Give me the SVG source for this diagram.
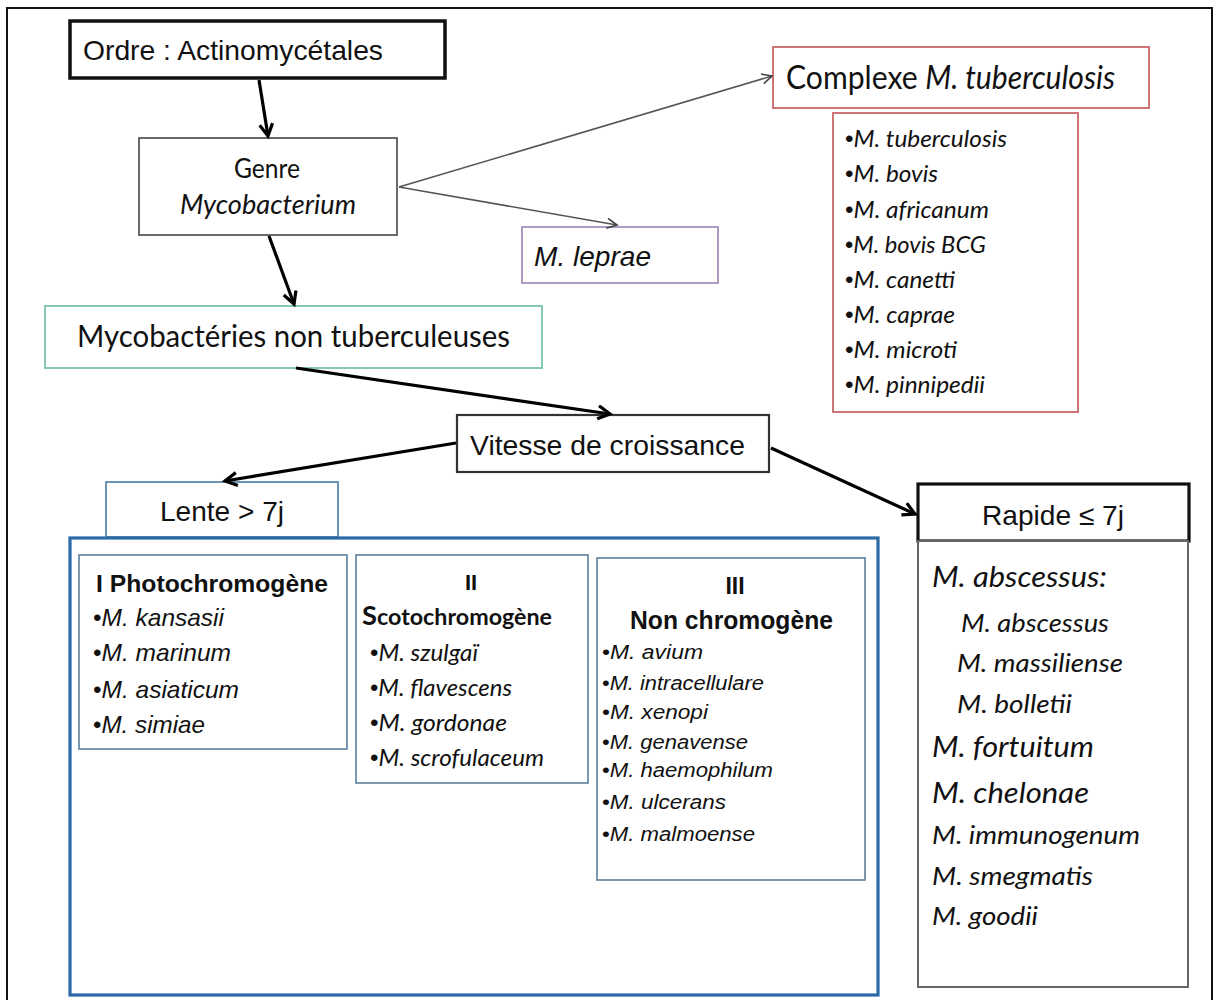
<svg xmlns="http://www.w3.org/2000/svg" width="1219" height="1000" viewBox="0 0 1219 1000">
<style>
.ar{font-family:"Liberation Sans",Arial,sans-serif;fill:#111}
.ca{font-family:Lato,"Open Sans",sans-serif;fill:#111}
.it{font-style:italic}
.b{font-weight:bold}
.bu{font-family:"Liberation Sans",Arial,sans-serif;font-style:normal}
.thick{stroke:#000;stroke-width:3.2;fill:none}
.thin{stroke:#555;stroke-width:1.6;fill:none}
</style>
<defs>
<marker id="ah" markerUnits="userSpaceOnUse" markerWidth="18" markerHeight="18" refX="14" refY="8" orient="auto">
<path d="M2,1.5 L14,8 L2,14.5" fill="none" stroke="#000" stroke-width="3.2"/>
</marker>
<marker id="ahs" markerUnits="userSpaceOnUse" markerWidth="14" markerHeight="14" refX="11" refY="6" orient="auto">
<path d="M1,1 L11,6 L1,11" fill="none" stroke="#444" stroke-width="1.6"/>
</marker>
</defs>
<rect x="0" y="0" width="1219" height="1000" fill="#fff"/>
<rect x="7" y="8" width="1205" height="1010" fill="none" stroke="#111" stroke-width="2"/>

<g id="ordre">
<rect x="70" y="21" width="375" height="57" fill="#fff" stroke="#111" stroke-width="3.5"/>
<text class="ar" x="83" y="60" font-size="28" textLength="300" lengthAdjust="spacingAndGlyphs">Ordre : Actinomycétales</text>
</g>
<g id="genre">
<rect x="139" y="138" width="258" height="97" fill="#fff" stroke="#444" stroke-width="1.6"/>
<text class="ca" x="267" y="178" font-size="27" text-anchor="middle" textLength="66" lengthAdjust="spacingAndGlyphs">Genre</text>
<text class="ca it" x="180" y="214" font-size="27" textLength="176" lengthAdjust="spacingAndGlyphs">Mycobacterium</text>
</g>
<g id="complexe">
<rect x="773" y="47" width="376" height="61" fill="#fff" stroke="#cf7578" stroke-width="2"/>
<text class="ca" x="786" y="89" font-size="32" textLength="329" lengthAdjust="spacingAndGlyphs">Complexe <tspan class="it">M. tuberculosis</tspan></text>
</g>
<g id="complexe-liste">
<rect x="833" y="113" width="245" height="299" fill="#fff" stroke="#cf7578" stroke-width="2"/>
<g class="ca it" font-size="23">
<text x="845" y="147" textLength="162" lengthAdjust="spacingAndGlyphs"><tspan class="bu">•</tspan>M. tuberculosis</text>
<text x="845" y="182" textLength="93" lengthAdjust="spacingAndGlyphs"><tspan class="bu">•</tspan>M. bovis</text>
<text x="845" y="218" textLength="144" lengthAdjust="spacingAndGlyphs"><tspan class="bu">•</tspan>M. africanum</text>
<text x="845" y="253" textLength="141" lengthAdjust="spacingAndGlyphs"><tspan class="bu">•</tspan>M. bovis BCG</text>
<text x="845" y="288" textLength="110" lengthAdjust="spacingAndGlyphs"><tspan class="bu">•</tspan>M. canetti</text>
<text x="845" y="323" textLength="110" lengthAdjust="spacingAndGlyphs"><tspan class="bu">•</tspan>M. caprae</text>
<text x="845" y="358" textLength="112" lengthAdjust="spacingAndGlyphs"><tspan class="bu">•</tspan>M. microti</text>
<text x="845" y="393" textLength="140" lengthAdjust="spacingAndGlyphs"><tspan class="bu">•</tspan>M. pinnipedii</text>
</g>
</g>
<g id="leprae">
<rect x="522" y="227" width="196" height="56" fill="#fff" stroke="#a591bd" stroke-width="1.8"/>
<text class="ar it" x="534" y="266" font-size="28" textLength="117" lengthAdjust="spacingAndGlyphs">M. leprae</text>
</g>
<g id="mnt">
<rect x="45" y="306" width="497" height="62" fill="#fff" stroke="#86c9b3" stroke-width="2"/>
<text class="ca" x="77" y="347" font-size="31" textLength="433" lengthAdjust="spacingAndGlyphs">Mycobactéries non tuberculeuses</text>
</g>
<g id="vitesse">
<rect x="457" y="415" width="312" height="57" fill="#fff" stroke="#333" stroke-width="2.2"/>
<text class="ar" x="470" y="455" font-size="28" textLength="275" lengthAdjust="spacingAndGlyphs">Vitesse de croissance</text>
</g>
<g id="lente">
<rect x="106" y="482" width="232" height="55" fill="#fff" stroke="#5c89b0" stroke-width="1.8"/>
<text class="ar" x="160" y="521" font-size="28" textLength="124" lengthAdjust="spacingAndGlyphs">Lente &gt; 7j</text>
</g>
<g id="lente-cadre">
<rect x="70" y="538" width="808" height="457" fill="#fff" stroke="#2b6aa6" stroke-width="3.2"/>
</g>
<g id="groupe-I">
<rect x="79" y="555" width="268" height="194" fill="#fff" stroke="#5a7f9e" stroke-width="1.6"/>
<text class="ar b" x="96" y="592" font-size="24" textLength="232" lengthAdjust="spacingAndGlyphs">I Photochromogène</text>
<g class="ar" font-size="24">
<text x="93" y="626" textLength="131" lengthAdjust="spacingAndGlyphs">•<tspan class="it">M. kansasii</tspan></text>
<text x="93" y="661" textLength="138" lengthAdjust="spacingAndGlyphs">•<tspan class="it">M. marinum</tspan></text>
<text x="93" y="698" textLength="146" lengthAdjust="spacingAndGlyphs">•<tspan class="it">M. asiaticum</tspan></text>
<text x="93" y="733" textLength="112" lengthAdjust="spacingAndGlyphs">•<tspan class="it">M. simiae</tspan></text>
</g>
</g>
<g id="groupe-II">
<rect x="356" y="555" width="232" height="228" fill="#fff" stroke="#5a7f9e" stroke-width="1.6"/>
<text class="ar b" x="471" y="590" font-size="22" text-anchor="middle">II</text>
<text class="ca b" x="362" y="625" font-size="23" textLength="190" lengthAdjust="spacingAndGlyphs"><tspan font-size="27">S</tspan>cotochromogène</text>
<g class="ca it" font-size="23">
<text x="370" y="661" textLength="108" lengthAdjust="spacingAndGlyphs"><tspan class="bu">•</tspan>M. szulgaï</text>
<text x="370" y="696" textLength="142" lengthAdjust="spacingAndGlyphs"><tspan class="bu">•</tspan>M. flavescens</text>
<text x="370" y="731" textLength="137" lengthAdjust="spacingAndGlyphs"><tspan class="bu">•</tspan>M. gordonae</text>
<text x="370" y="766" textLength="174" lengthAdjust="spacingAndGlyphs"><tspan class="bu">•</tspan>M. scrofulaceum</text>
</g>
</g>
<g id="groupe-III">
<rect x="597" y="558" width="268" height="322" fill="#fff" stroke="#5a7f9e" stroke-width="1.6"/>
<text class="ar b" x="735" y="594" font-size="23" text-anchor="middle">III</text>
<text class="ar b" x="630" y="629" font-size="25" textLength="203" lengthAdjust="spacingAndGlyphs">Non chromogène</text>
<g class="ar" font-size="20">
<text x="602" y="659" textLength="101" lengthAdjust="spacingAndGlyphs">•<tspan class="it">M. avium</tspan></text>
<text x="602" y="690" textLength="162" lengthAdjust="spacingAndGlyphs">•<tspan class="it">M. intracellulare</tspan></text>
<text x="602" y="719" textLength="106" lengthAdjust="spacingAndGlyphs">•<tspan class="it">M. xenopi</tspan></text>
<text x="602" y="749" textLength="146" lengthAdjust="spacingAndGlyphs">•<tspan class="it">M. genavense</tspan></text>
<text x="602" y="777" textLength="171" lengthAdjust="spacingAndGlyphs">•<tspan class="it">M. haemophilum</tspan></text>
<text x="602" y="809" textLength="124" lengthAdjust="spacingAndGlyphs">•<tspan class="it">M. ulcerans</tspan></text>
<text x="602" y="841" textLength="153" lengthAdjust="spacingAndGlyphs">•<tspan class="it">M. malmoense</tspan></text>
</g>
</g>
<g id="rapide">
<rect x="918" y="484" width="271" height="57" fill="#fff" stroke="#111" stroke-width="3.2"/>
<text class="ar" x="982" y="525" font-size="28" textLength="142" lengthAdjust="spacingAndGlyphs">Rapide ≤ 7j</text>
</g>
<g id="rapide-liste">
<rect x="918" y="541" width="270" height="446" fill="#fff" stroke="#666" stroke-width="2"/>
<g class="ca it">
<text x="932" y="587" font-size="29" textLength="175" lengthAdjust="spacingAndGlyphs">M. abscessus:</text>
<text x="961" y="632" font-size="25" textLength="148" lengthAdjust="spacingAndGlyphs">M. abscessus</text>
<text x="957" y="672" font-size="25" textLength="166" lengthAdjust="spacingAndGlyphs">M. massiliense</text>
<text x="957" y="713" font-size="25" textLength="115" lengthAdjust="spacingAndGlyphs">M. bolletii</text>
<text x="932" y="757" font-size="29" textLength="162" lengthAdjust="spacingAndGlyphs">M. fortuitum</text>
<text x="932" y="803" font-size="29" textLength="157" lengthAdjust="spacingAndGlyphs">M. chelonae</text>
<text x="932" y="844" font-size="26" textLength="208" lengthAdjust="spacingAndGlyphs">M. immunogenum</text>
<text x="932" y="885" font-size="26" textLength="161" lengthAdjust="spacingAndGlyphs">M. smegmatis</text>
<text x="932" y="925" font-size="26" textLength="106" lengthAdjust="spacingAndGlyphs">M. goodii</text>
</g>
</g>

<g id="connecteurs">
<line class="thick" x1="259" y1="80" x2="268" y2="136" marker-end="url(#ah)"/>
<line class="thick" x1="269" y1="236" x2="294" y2="304" marker-end="url(#ah)"/>
<line class="thin" x1="399" y1="187" x2="772" y2="76" marker-end="url(#ahs)"/>
<line class="thin" x1="399" y1="187" x2="617" y2="225" marker-end="url(#ahs)"/>
<line class="thick" x1="296" y1="368" x2="610" y2="414" marker-end="url(#ah)"/>
<line class="thick" x1="456" y1="443" x2="225" y2="481" marker-end="url(#ah)"/>
<line class="thick" x1="771" y1="448" x2="915" y2="514" marker-end="url(#ah)"/>
</g>
</svg>
